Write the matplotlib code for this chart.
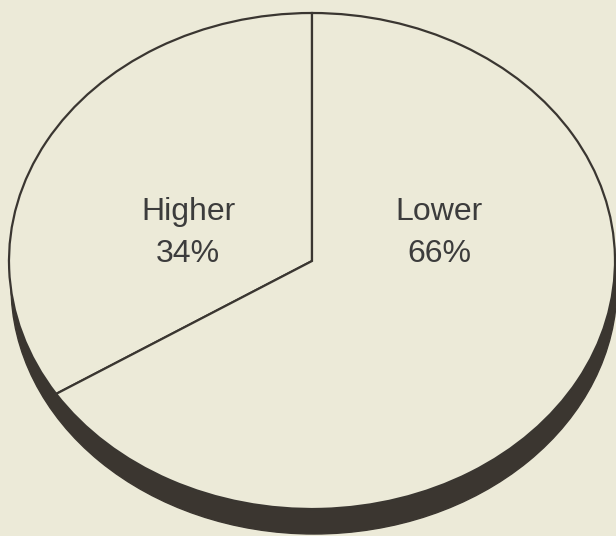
import matplotlib
matplotlib.use("Agg")
import matplotlib.pyplot as plt
from matplotlib.patches import Ellipse

categories = ["Higher", "Lower"]
values = [34, 66]

BG = "#ECEAD8"
INK = "#3a3631"
SHADOW = "#3b3630"

W, H = 616, 536
fig = plt.figure(figsize=(W / 100, H / 100), dpi=100, facecolor=BG)

# ellipse geometry in pixels
cx, cy, rx, ry = 312, 261, 303, 248
ax = fig.add_axes([(cx - rx) / W, (H - (cy + ry)) / H, 2 * rx / W, 2 * ry / H])
ax.set_facecolor(BG)
ax.axis("off")

# shadow (3D rim)
sh = Ellipse((2 / rx, -25 / ry), 2, 2, facecolor=SHADOW, edgecolor=SHADOW,
             lw=1.0, clip_on=False, zorder=0)
ax.add_patch(sh)

wedges, _ = ax.pie(values, startangle=90, counterclock=True, radius=1,
                   colors=[BG, BG],
                   wedgeprops=dict(edgecolor=INK, linewidth=1.6))
for w in wedges:
    w.set_zorder(2)
    w.set_clip_on(False)

ax.set_xlim(-1, 1)
ax.set_ylim(-1, 1)
ax.set_aspect("auto")

# label positions in pixels (center x, baseline y of first line, second line)
label_px = [(188, 220, 262), (439, 220, 262)]
for (lx, b1, b2), cat, v in zip(label_px, categories, values):
    fig.text(lx / W, 1 - b1 / H, cat, ha="center", va="baseline",
             fontsize=23, color="#3c3c3c", family="Liberation Sans", zorder=5)
    fig.text(lx / W, 1 - b2 / H, f"{v}%", ha="center", va="baseline",
             fontsize=23, color="#3c3c3c", family="Liberation Sans", zorder=5)

fig.savefig("out.png", dpi=100, facecolor=BG)
